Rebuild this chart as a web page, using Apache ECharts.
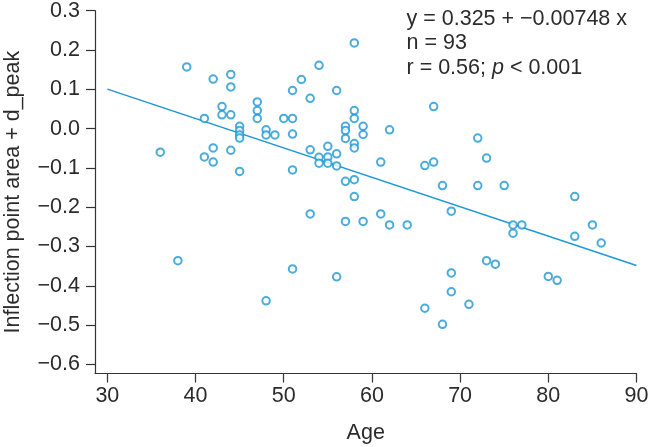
<!DOCTYPE html>
<html>
<head>
<meta charset="utf-8">
<script src="https://cdn.jsdelivr.net/npm/echarts@6/dist/echarts.min.js"></script>
<style>
html,body{margin:0;padding:0;background:#fff;}
#chart{width:650px;height:447px;}
</style>
</head>
<body>
<div id="chart"></div>
<script>
const ages = [39,42,44,44,43,43,44,47,47,47,
  41,50,51,45,45,45,45,48,48,49,
  51,51,36,42,41,42,44,45,51,58,
  54,52,56,53,58,58,57,57,57,59,
  59,62,58,58,55,53,56,54,55,54,
  55,56,61,67,66,67,68,57,58,58,
  72,73,72,75,83,38,48,51,53,57,
  59,61,62,64,69,56,69,69,66,68,
  71,76,77,76,83,85,86,73,74,80,81];
const values = [0.157,0.126,0.138,0.106,0.056,0.035,0.035,0.068,0.046,0.026,
  0.026,0.026,0.026,0.006,-0.005,-0.016,-0.024,-0.003,-0.016,-0.016,
  -0.014,0.097,-0.060,-0.049,-0.072,-0.085,-0.055,-0.109,-0.105,0.218,
  0.161,0.125,0.097,0.077,0.046,0.026,0.006,-0.005,-0.025,0.006,
  -0.015,-0.003,-0.038,-0.049,-0.045,-0.054,-0.064,-0.073,-0.072,-0.088,
  -0.088,-0.095,-0.085,0.056,-0.094,-0.085,-0.145,-0.134,-0.130,-0.173,
  -0.024,-0.075,-0.145,-0.145,-0.173,-0.336,-0.438,-0.357,-0.217,-0.236,
  -0.236,-0.217,-0.245,-0.245,-0.210,-0.377,-0.367,-0.415,-0.457,-0.498,
  -0.447,-0.245,-0.245,-0.266,-0.274,-0.245,-0.291,-0.336,-0.345,-0.376,-0.386];
const xTicks = [30,40,50,60,70,80,90];
const yTicks = [-0.6,-0.5,-0.4,-0.3,-0.2,-0.1,0.0,0.1,0.2,0.3];
const intercept = 0.325;
const slope = -0.00748;
const fitRange = [30, 90];
const statLines = ['y = 0.325 + \u22120.00748 x', 'n = 93', 'r = 0.56; {i|p} < 0.001'];

const blue = '#1e97d3';
const txt = '#2b2b2b';
const FONT = 'Liberation Sans, Arial, sans-serif';

const chart = echarts.init(document.getElementById('chart'), null, {renderer:'canvas'});
const fmt = v => (v < -1e-9 ? '\u2212' : '') + Math.abs(v).toFixed(1);

chart.setOption({
  animation: false,
  backgroundColor: '#fff',
  grid: {left: 95, right: 13.5, top: 10.7, bottom: 73.5, containLabel: false, outerBoundsMode: 'none'},
  xAxis: {
    type: 'value', min: 28.6, max: 90,
    name: 'Age', nameLocation: 'middle', nameGap: 49,
    nameTextStyle: {fontFamily: FONT, fontSize: 21.5, color: txt},
    axisLine: {show: true, onZero: false, lineStyle: {color: '#333', width: 1.2}},
    axisTick: {show: true, length: 9, inside: false, customValues: xTicks, lineStyle: {color: '#333', width: 1.2}},
    axisLabel: {customValues: xTicks, margin: 12, fontFamily: FONT, fontSize: 21.5, color: txt},
    splitLine: {show: false}
  },
  yAxis: {
    type: 'value', min: -0.623, max: 0.3,
    name: 'Inflection point area + d_peak', nameLocation: 'middle', nameGap: 71,
    nameTextStyle: {fontFamily: FONT, fontSize: 21.5, color: txt},
    axisLine: {show: true, onZero: false, lineStyle: {color: '#333', width: 1.2}},
    axisTick: {show: true, length: 9, inside: false, customValues: yTicks, lineStyle: {color: '#333', width: 1.2}},
    axisLabel: {customValues: yTicks, margin: 15, fontFamily: FONT, fontSize: 21.5, color: txt, formatter: fmt},
    splitLine: {show: false}
  },
  graphic: [{
    type: 'text', left: 406.5, top: 6.5, silent: true,
    style: {
      text: statLines.join('\n'),
      font: '21.5px ' + FONT, fill: txt, lineHeight: 24.5,
      rich: {i: {fontStyle: 'italic', fontFamily: FONT, fontSize: 21.5, fill: txt, lineHeight: 24.5}}
    }
  }],
  series: [{
    type: 'scatter',
    data: ages.map((a, i) => [a, values[i]]),
    symbol: 'emptyCircle', symbolSize: 7.5,
    itemStyle: {color: blue, borderColor: blue, borderWidth: 1.7},
    z: 3
  }, {
    type: 'line',
    data: fitRange.map(x => [x, intercept + slope * x]),
    symbol: 'none',
    lineStyle: {color: blue, width: 1.4},
    z: 2
  }]
});
</script>
</body>
</html>
